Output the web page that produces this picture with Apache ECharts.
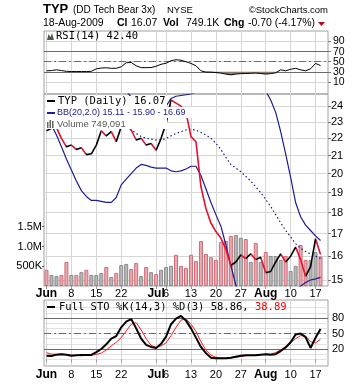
<!DOCTYPE html>
<html><head><meta charset="utf-8">
<script src="https://cdn.jsdelivr.net/npm/echarts@6/dist/echarts.min.js"></script>
<style>html,body{margin:0;padding:0;background:#fff}#c{width:360px;height:384px}</style>
</head><body><div id="c"></div>
<script>
// ---- data ----
const days = ['Jun 1','Jun 2','Jun 3','Jun 4','Jun 5','Jun 8','Jun 9','Jun 10','Jun 11','Jun 12',
 'Jun 15','Jun 16','Jun 17','Jun 18','Jun 19','Jun 22','Jun 23','Jun 24','Jun 25','Jun 26','Jun 29','Jun 30',
 'Jul 1','Jul 2','Jul 6','Jul 7','Jul 8','Jul 9','Jul 10','Jul 13','Jul 14','Jul 15','Jul 16','Jul 17',
 'Jul 20','Jul 21','Jul 22','Jul 23','Jul 24','Jul 27','Jul 28','Jul 29','Jul 30','Jul 31',
 'Aug 3','Aug 4','Aug 5','Aug 6','Aug 7','Aug 10','Aug 11','Aug 12','Aug 13','Aug 14','Aug 17','Aug 18'];
const tickIdx  = [0,5,10,15,22,24,29,34,39,44,49,54];
const tickText = ['Jun','8','15','22','Jul','6','13','20','27','Aug','10','17'];

const close = [22.45,22.6,22.65,22.0,21.5,21.6,21.35,21.45,21.05,21.1,
 21.6,22.45,22.15,22.4,21.8,22.7,23.1,22.5,21.9,22.0,21.6,21.7,
 21.3,22.0,22.9,24.4,24.2,24.0,23.6,22.1,21.8,19.3,18.2,17.5,
 17.1,16.8,16.3,15.6,15.75,16.05,15.9,16.1,15.85,15.95,
 15.3,15.35,15.75,16.1,15.75,16.0,16.4,15.85,15.15,15.55,16.77,16.07];
const firstDayDown = true;

const bbUpper = [26.0,26.3,26.6,26.9,27.2,27.4,27.6,27.7,27.7,27.6,
 27.4,27.1,26.8,26.4,25.9,25.4,25.0,24.6,24.2,23.9,23.7,23.6,
 23.6,23.7,24.0,24.5,24.65,24.7,24.75,24.8,24.95,25.5,26.1,26.7,
 27.1,27.4,27.6,27.8,27.8,27.7,27.5,27.2,26.8,26.0,
 25.0,24.4,23.6,22.4,21.1,19.8,18.5,17.8,17.4,17.15,16.9,16.69];
const bbMid = [24.3,24.2,24.1,24.0,23.9,23.8,23.7,23.6,23.5,23.4,
 23.3,23.2,23.1,23.0,22.9,22.8,22.7,22.5,22.3,22.1,22.0,21.95,
 21.9,21.9,22.0,22.15,22.3,22.4,22.5,22.55,22.5,22.35,22.2,22.0,
 21.7,21.35,20.9,20.5,20.3,20.1,19.85,19.6,19.3,19.0,
 18.65,18.3,17.9,17.5,17.15,16.85,16.55,16.35,16.2,16.1,16.0,15.90];
const bbLower = [23.2,22.8,22.2,21.5,20.8,20.2,19.6,19.1,18.8,18.6,
 18.6,18.55,18.5,18.5,18.75,19.4,19.7,20.0,20.3,20.5,20.45,20.35,
 20.3,20.3,20.3,20.15,20.1,20.15,20.25,20.4,20.4,19.9,19.2,18.5,
 17.9,17.35,16.5,15.6,14.8,14.3,13.9,13.6,13.4,13.3,
 13.2,13.3,13.5,13.8,14.1,14.4,14.6,14.75,14.9,15.0,15.05,15.11];
const volume = [410000,280000,250000,280000,610000,280000,280000,350000,410000,280000,
 280000,330000,480000,230000,330000,530000,560000,430000,580000,250000,480000,350000,
 300000,410000,480000,510000,790000,510000,460000,790000,630000,1140000,810000,730000,
 660000,1110000,1140000,1270000,1290000,1220000,1190000,610000,1090000,610000,
 860000,760000,760000,660000,760000,380000,510000,1040000,660000,660000,860000,749091];
const rsi = [32,32.5,34,32.5,31,30.6,30.6,30.6,30.5,31,
 36,37.5,38,37,37,40,48,48.6,42,38.3,38.3,38.5,
 41,45,47,52,54,53,50,46.7,42,32,29.4,29.4,
 28.5,27.5,25.5,24,25.5,26.5,26.7,27,27.5,26.7,
 25.5,26.5,28,34,32,35,37,34,32,36,46.7,42.4];
const stoK = [7,6.5,9,9.7,9,7,8,8.4,8.4,8.4,
 14,20,29,40,45,62,73,78,60,40,28,24,
 22,30,44,68,79,84,75,60,42,24,12,3,
 2,2,2,3,5,7,8,8,8,9,
 10,9,10,16,23,33,48,50,43,22,42,58.86];
const stoD = [13,10,9.7,9.7,9,8,7.5,7,7.5,8,
 9.5,12,18,26,33,42,55,68,71,57,40,27,
 23,26,32,46,62,76,79,68,54,34,18,8,
 4,2,2,3,4,5.5,7,7.5,8,9,
 9.5,10,13,18,25,32,40,46,45,34,32,38.89];
const priceTicks = [15,16,17,18,19,20,21,22,23,24];
const volTicks = [500000,1000000,1500000];
const rsiTicks = [10,30,50,70,90];
const stoTicks = [20,50,80];

// ---- build ----
const cats = days.concat(['']);
const SANS = 'Liberation Sans, Arial, sans-serif';
const MONO = 'DejaVu Sans Mono, monospace';
const RED = '#e4112d', NAVY = '#1c1c96', GRID = '#d6d6d6', BORDER = '#a0a0a0';
const down = close.map((v,i)=> i===0 ? firstDayDown : v < close[i-1]);
const isTick = idx => tickIdx.indexOf(idx) >= 0;
function xLabel(val, idx){ const k = tickIdx.indexOf(idx); if(k<0) return ''; const t = tickText[k]; return isNaN(+t) ? '{m|'+t+'}' : '{d|'+t+'}'; }
function xAxis(gi, showLabel, margin){
  return {type:'category', gridIndex:gi, data:cats, boundaryGap:true,
    axisLine:{show:false},
    axisTick:{show:showLabel, interval:(i)=>isTick(i), alignWithLabel:true, length:3, lineStyle:{color:'#999'}},
    axisLabel:{show:showLabel, interval:(i)=>isTick(i), formatter:xLabel, margin:margin, color:'#000', hideOverlap:false,
      rich:{m:{fontFamily:SANS,fontWeight:'bold',fontSize:12,color:'#000'}, d:{fontFamily:SANS,fontSize:11,color:'#000'}}},
    splitLine:{show:true, interval:(i)=>isTick(i), alignWithLabel:true, lineStyle:{color:GRID,width:1}}};
}
const pieces = [{lte:0, color: firstDayDown?RED:'#000'}];
for(let i=1;i<close.length;i++) pieces.push({gt:i-1, lte:i, color: down[i]?RED:'#000'});

const refLine = (vals, dashed) => vals.map(v=>({yAxis:v, lineStyle:{color:'#6a6a6a', width:1, type: dashed?[7,3,2,3]:'solid'}}));
// RSI right-hand labels drawn as marker-line labels so none get hidden
const rsiLabelLines = rsiTicks.map(v=>({yAxis:v,
  lineStyle:{color: v===30||v===70 ? '#6a6a6a' : (v===50 ? '#6a6a6a' : GRID), width:1, type: v===50 ? [7,3,2,3] : 'solid'},
  label:{show:true, position:'end', distance:5, formatter:String(v), fontFamily:SANS, fontSize:10.5, color:'#000'}}));

const option = {
  animation:false,
  backgroundColor:'#fff',
  grid:[
    {left:44, right:32, top:31, height:63, show:true, borderColor:BORDER, borderWidth:1},
    {left:44, right:32, top:94, height:192, show:true, borderColor:BORDER, borderWidth:1},
    {left:44, right:32, top:300, height:66, show:true, borderColor:BORDER, borderWidth:1}
  ],
  xAxis:[ xAxis(0,false,2), xAxis(1,true,2), xAxis(2,true,3) ],
  yAxis:[
    {type:'value', gridIndex:0, position:'right', min:-14, max:111,
      axisLine:{show:false}, axisTick:{show:true, customValues:rsiTicks, length:3, lineStyle:{color:'#777'}},
      axisLabel:{show:false},
      splitLine:{show:true, lineStyle:{color:GRID}}},
    {type:'log', gridIndex:1, position:'right', min:14.76, max:24.8, logBase:10,
      axisLine:{show:false}, axisTick:{show:true, customValues:priceTicks, length:3, lineStyle:{color:'#777'}},
      axisLabel:{customValues:priceTicks, fontFamily:SANS, fontSize:11, color:'#000', margin:3, hideOverlap:false},
      splitLine:{show:true, lineStyle:{color:GRID}}},
    {type:'value', gridIndex:1, position:'left', min:0, max:4860000,
      axisLine:{show:false}, axisTick:{show:true, customValues:volTicks, length:2, lineStyle:{color:'#555'}},
      axisLabel:{customValues:volTicks, fontFamily:SANS, fontSize:11, color:'#000', margin:2, hideOverlap:false,
        formatter:v=> v>=1000000 ? (v/1000000).toFixed(1)+'M' : (v/1000)+'K'},
      splitLine:{show:false}},
    {type:'value', gridIndex:2, position:'right', min:-13, max:115,
      axisLine:{show:false}, axisTick:{show:false, customValues:[0,10,20,30,40,50,60,70,80,90,100]},
      axisLabel:{customValues:stoTicks, fontFamily:SANS, fontSize:11, color:'#000', margin:4, hideOverlap:false},
      splitLine:{show:true, lineStyle:{color:'#e2e2e2'}}}
  ],
  visualMap:[{type:'piecewise', show:false, seriesIndex:6, dimension:0, pieces:pieces, outOfRange:{color:'#000'}}],
  series:[
    {type:'line', xAxisIndex:0, yAxisIndex:0, data:rsi.map(v=>Math.min(v,30)), symbol:'none', z:2,
      lineStyle:{width:0}, areaStyle:{origin:30, color:'#8a7d70', opacity:1}, silent:true},
    {type:'line', xAxisIndex:0, yAxisIndex:0, data:rsi, symbol:'none', z:3, color:'#000',
      lineStyle:{color:'#000', width:1},
      markLine:{silent:true, symbol:'none', z:1, data: rsiLabelLines}},
    {type:'bar', xAxisIndex:1, yAxisIndex:2, barWidth:4, z:1,
      data: volume.map((v,i)=>({value:v, itemStyle:{color: down[i]?'#e8aab0':'#b8b8b8', borderColor: down[i]?'#cf6d78':'#8a8a8a', borderWidth:1}}))},
    {type:'line', xAxisIndex:1, yAxisIndex:1, data:bbUpper, symbol:'none', z:2, lineStyle:{color:NAVY, width:1.2}},
    {type:'line', xAxisIndex:1, yAxisIndex:1, data:bbMid, symbol:'none', z:2, lineStyle:{color:NAVY, width:1.2, type:[1.5,2.5]}},
    {type:'line', xAxisIndex:1, yAxisIndex:1, data:bbLower, symbol:'none', z:2, lineStyle:{color:NAVY, width:1.2}},
    {type:'line', xAxisIndex:1, yAxisIndex:1, data:close, symbol:'none', z:3, lineStyle:{width:1.6}},
    {type:'line', xAxisIndex:2, yAxisIndex:3, data:stoD, symbol:'none', z:3, lineStyle:{color:'#ff1a1a', width:1}},
    {type:'line', xAxisIndex:2, yAxisIndex:3, data:stoK, symbol:'none', z:4, lineStyle:{color:'#000', width:2},
      markLine:{silent:true, symbol:'none', label:{show:false}, z:1, data: refLine([80,20],false).concat(refLine([50],true))}}
  ],
  graphic:[
    {type:'text', left:43, top:3, z:20, style:{text:'TYP', font:'bold 13px '+SANS, fill:'#000'}},
    {type:'text', left:73, top:5, z:20, style:{text:'(DD Tech Bear 3x)', font:'10px '+SANS, fill:'#000'}},
    {type:'text', left:167, top:5, z:20, style:{text:'NYSE', font:'9.5px '+SANS, fill:'#000'}},
    {type:'text', right:32, top:5, z:20, style:{text:'\u00A9StockCharts.com', font:'9.5px '+SANS, fill:'#000'}},
    {type:'text', left:43, top:18, z:20, style:{text:'18-Aug-2009', font:'10.5px '+SANS, fill:'#000'}},
    {type:'text', left:117, top:18, z:20, style:{text:'Cl', font:'bold 10.5px '+SANS, fill:'#000'}},
    {type:'text', left:131, top:18, z:20, style:{text:'16.07', font:'10.5px '+SANS, fill:'#000'}},
    {type:'text', left:163, top:18, z:20, style:{text:'Vol', font:'bold 10.5px '+SANS, fill:'#000'}},
    {type:'text', left:186, top:18, z:20, style:{text:'749.1K', font:'10.5px '+SANS, fill:'#000'}},
    {type:'text', left:224, top:18, z:20, style:{text:'Chg', font:'bold 10.5px '+SANS, fill:'#000'}},
    {type:'text', left:248, top:18, z:20, style:{text:'-0.70 (-4.17%)', font:'10.5px '+SANS, fill:'#000'}},
    {type:'polygon', z:20, shape:{points:[[318,22],[325,22],[321.5,26]]}, style:{fill:'#c00018'}},
    {type:'polygon', z:20, shape:{points:[[47,40],[48.5,34],[50.5,37],[52,33],[54,40]]}, style:{fill:'#4d5b4d'}},
    {type:'text', left:56, top:31, z:20, style:{text:'RSI(14) 42.40', font:'10.5px '+MONO, fill:'#000'}},
    {type:'rect', z:20, shape:{x:46,y:96,width:121,height:33}, style:{fill:'#fff'}},
    {type:'rect', z:20, shape:{x:46,y:107,width:158,height:11}, style:{fill:'#fff'}},
    {type:'rect', z:21, shape:{x:47,y:100,width:8,height:2}, style:{fill:'#000'}},
    {type:'text', left:58, top:96, z:21, style:{text:'TYP (Daily) 16.07', font:'10.5px '+MONO, fill:'#000'}},
    {type:'rect', z:21, shape:{x:47,y:112,width:8,height:2}, style:{fill:NAVY}},
    {type:'text', left:57, top:108, z:21, style:{text:'BB(20,2.0) 15.11 - 15.90 - 16.69', font:'9px '+SANS, fill:NAVY}},
    {type:'rect', z:21, shape:{x:47,y:122,width:1.5,height:6}, style:{fill:'#666'}},
    {type:'rect', z:21, shape:{x:49.5,y:120,width:1.5,height:8}, style:{fill:'#666'}},
    {type:'rect', z:21, shape:{x:52,y:121,width:1.5,height:7}, style:{fill:'#666'}},
    {type:'text', left:57, top:119, z:21, style:{text:'Volume 749,091', font:'9.5px '+SANS, fill:'#555'}},
    {type:'rect', z:21, shape:{x:47,y:306,width:8,height:2}, style:{fill:'#000'}},
    {type:'text', left:59, top:302, z:21, style:{text:'{a|Full STO %K(14,3) %D(3) 58.86, }{b|38.89}',
      rich:{a:{font:'10.5px '+MONO, fill:'#000'}, b:{font:'10.5px '+MONO, fill:'#f00'}}}}
  ]
};
const chart = echarts.init(document.getElementById('c'));
chart.setOption(option);
</script></body></html>
